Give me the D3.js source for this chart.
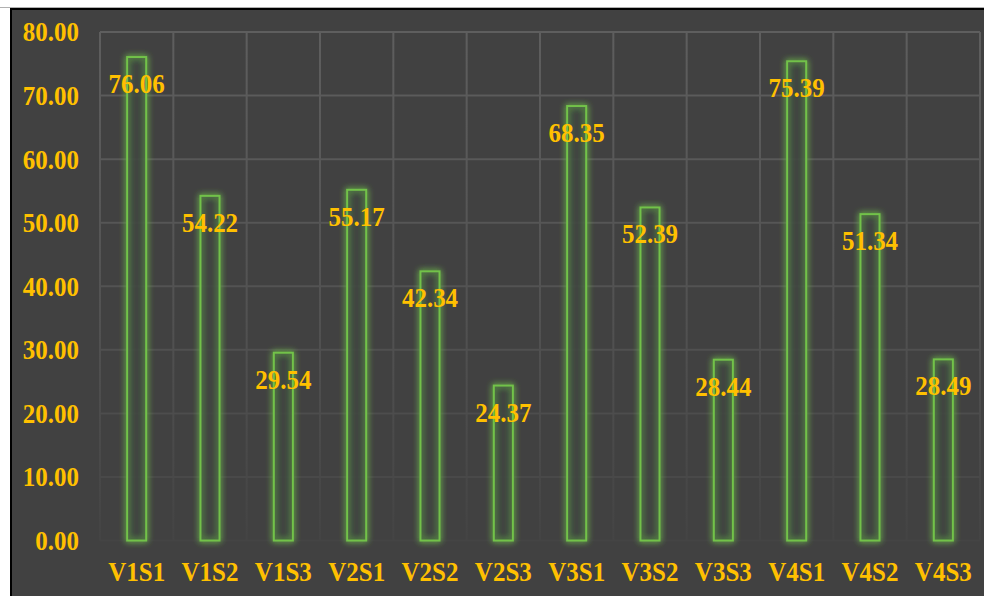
<!DOCTYPE html>
<html>
<head>
<meta charset="utf-8">
<script src="https://cdn.jsdelivr.net/npm/d3@7"></script>
<style>
  html, body { margin: 0; padding: 0; background: #ffffff; }
  svg { display: block; }
</style>
</head>
<body>
<svg id="chart" width="984" height="596"></svg>
<script>
// Sample groups and their measured values
const categories = ["V1S1", "V1S2", "V1S3", "V2S1", "V2S2", "V2S3",
                    "V3S1", "V3S2", "V3S3", "V4S1", "V4S2", "V4S3"];
const values = [76.06, 54.22, 29.54, 55.17, 42.34, 24.37,
                68.35, 52.39, 28.44, 75.39, 51.34, 28.49];
const yTicks = [0, 10, 20, 30, 40, 50, 60, 70, 80];

const W = 984, H = 596;
const margin = { left: 100, right: 4, top: 32, bottom: 56 };
const svg = d3.select("#chart");

const gold = "#ffc000";
const green = "#72c24a";
const font = "'Liberation Serif', 'Times New Roman', serif";
const stretch = 1.12; // text is drawn slightly tall and narrow

// dark panel with a black frame
svg.append("rect").attr("x", 0).attr("y", 0).attr("width", W).attr("height", H).attr("fill", "#ffffff");
svg.append("line").attr("x1", 0).attr("x2", W).attr("y1", 7.5).attr("y2", 7.5)
  .attr("stroke", "#b0b0b0").attr("stroke-width", 1);
svg.append("rect").attr("x", 11).attr("y", 9).attr("width", W - 10).attr("height", H - 8)
  .attr("fill", "#414141").attr("stroke", "#000000").attr("stroke-width", 2);

const x = d3.scaleBand().domain(categories)
  .range([margin.left, W - margin.right]).paddingInner(0).paddingOuter(0);
const y = d3.scaleLinear().domain([0, 80]).range([H - margin.bottom + 0.5, margin.top]);

const defs = svg.append("defs");

// gridlines fade out towards the bottom of the plot
const grad = defs.append("linearGradient").attr("id", "gridFade")
  .attr("gradientUnits", "userSpaceOnUse")
  .attr("x1", 0).attr("x2", 0).attr("y1", y(80)).attr("y2", y(0));
grad.append("stop").attr("offset", "0%").attr("stop-color", "#5e5e5e");
grad.append("stop").attr("offset", "55%").attr("stop-color", "#525252");
grad.append("stop").attr("offset", "100%").attr("stop-color", "#444444");

// soft green glow around bar outlines
const glow = defs.append("filter").attr("id", "glow")
  .attr("x", "-100%").attr("y", "-20%").attr("width", "300%").attr("height", "140%");
glow.append("feGaussianBlur").attr("in", "SourceGraphic").attr("stdDeviation", 3).attr("result", "blur");
glow.append("feComponentTransfer").attr("in", "blur").attr("result", "blurA")
  .append("feFuncA").attr("type", "linear").attr("slope", 1.6);
const merge = glow.append("feMerge");
merge.append("feMergeNode").attr("in", "blurA");
merge.append("feMergeNode").attr("in", "SourceGraphic");

const grid = svg.append("g");
const xEdges = categories.map(c => x(c)).concat([x.range()[1]]);
grid.selectAll("line.v").data(xEdges).join("line")
  .attr("x1", d => d).attr("x2", d => d)
  .attr("y1", y(80)).attr("y2", y(0))
  .attr("stroke", "url(#gridFade)").attr("stroke-width", 2);
grid.selectAll("line.h").data(yTicks).join("line")
  .attr("x1", margin.left).attr("x2", x.range()[1])
  .attr("y1", d => y(d)).attr("y2", d => y(d))
  .attr("stroke", d => d3.interpolateRgb("#444444", "#5e5e5e")(Math.pow(d / 80, 0.8)))
  .attr("stroke-width", 2);

// y axis tick labels
const yAxis = d3.axisLeft(y).tickValues(yTicks).tickFormat(d3.format(".2f")).tickSize(0).tickPadding(0);
const yg = svg.append("g").attr("transform", `translate(79,0)`).call(yAxis);
yg.select(".domain").remove();
yg.selectAll("text")
  .attr("fill", gold).attr("font-family", font).attr("font-weight", "bold")
  .attr("font-size", 25).attr("x", 0).attr("y", 0).attr("dy", "0.32em")
  .attr("transform", `scale(1,${stretch})`);

// x axis category labels
const xAxis = d3.axisBottom(x).tickSize(0).tickPadding(0);
const xg = svg.append("g").attr("transform", `translate(0,${y(0)})`).call(xAxis);
xg.select(".domain").remove();
xg.selectAll("text")
  .attr("fill", gold).attr("font-family", font).attr("font-weight", "bold")
  .attr("font-size", 25).attr("dy", 0).attr("y", 41 / stretch)
  .attr("transform", `scale(1,${stretch})`);

// bars: outlined columns with a glow
const barW = 19;
svg.append("g").attr("filter", "url(#glow)")
  .selectAll("rect").data(values).join("rect")
  .attr("x", (d, i) => x(categories[i]) + x.bandwidth() / 2 - barW / 2)
  .attr("y", d => y(d))
  .attr("width", barW)
  .attr("height", d => y(0) - y(d))
  .attr("fill", "#3f4640")
  .attr("fill-opacity", 0.5)
  .attr("stroke", green).attr("stroke-width", 2);

// value labels inside the top of each column
svg.append("g").selectAll("text").data(values).join("text")
  .attr("transform", (d, i) =>
    `translate(${x(categories[i]) + x.bandwidth() / 2},${y(d) + 36}) scale(1,${stretch})`)
  .attr("text-anchor", "middle")
  .attr("fill", gold).attr("font-family", font).attr("font-weight", "bold")
  .attr("font-size", 25)
  .text(d => d3.format(".2f")(d));
</script>
</body>
</html>
